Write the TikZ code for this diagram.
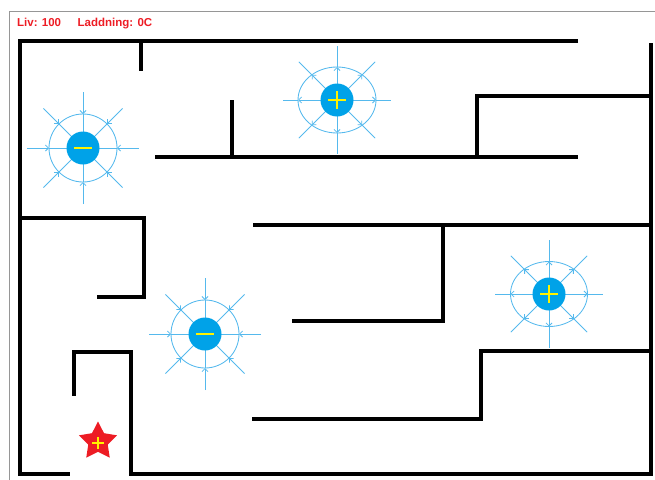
\documentclass[tikz,border=0pt]{standalone}
\usepackage{fontspec}
\setmainfont{Liberation Sans}
\usetikzlibrary{arrows.meta,shapes.geometric}
\definecolor{chargeblue}{RGB}{0,162,232}
\definecolor{fieldblue}{RGB}{85,185,237}
\definecolor{signyellow}{RGB}{255,242,0}
\definecolor{hudred}{RGB}{237,28,36}
\definecolor{framegray}{RGB}{150,150,150}

% #1 name, #2 x, #3 y, #4 x radius, #5 y radius, #6 + or -
\newcommand\fieldcharge[6]{%
  \begin{scope}[shift={(#2,#3)}]
    \coordinate (#1) at (0,0);
    \draw[field] (0,0) ellipse [x radius=#4, y radius=#5];
    \foreach \a in {0,45,...,315} {
      \pgfmathsetmacro\r{#4*#5/sqrt((#5*cos(\a))^2+(#4*sin(\a))^2)}
      \if#6-
        \draw[field,-{Straight Barb[length=3pt,width=6pt]}] (\a:56) -- (\a:\r);
        \draw[field] (\a:\r) -- (\a:16);
      \else
        \draw[field,-{Straight Barb[length=3pt,width=6pt]}] (\a:16) -- (\a:\r);
        \draw[field] (\a:\r) -- (\a:54);
      \fi
    }
    \fill[chargeblue] (0,0) circle [radius=16.5];
    \draw[sign] (-9,0) -- (9,0);
    \if#6+ \draw[sign] (0,-9) -- (0,9); \fi
  \end{scope}%
}

\begin{document}
\begin{tikzpicture}[x=1pt,y=-1pt,
  wall/.style={line width=4pt, line cap=butt, line join=miter},
  field/.style={draw=fieldblue, line width=0.85pt},
  sign/.style={draw=signyellow, line width=2.6pt},
  hud/.style={anchor=base west, inner sep=0pt, text=hudred,
    font=\bfseries\fontsize{11.5}{13}\selectfont}]
\useasboundingbox (0,0) rectangle (655,479);

% window frame
\draw[framegray, line width=1pt] (9,490) -- (9,11) -- (660,11);

% status line
\node[hud] (lives) at (17,27) {Liv: 100};
\node[hud] (charge) at (77.5,27) {Laddning: 0C};

% maze walls
\draw[wall] (578,41) -- (20,41) -- (20,474) -- (70,474);
\draw[wall] (141,41) -- (141,71);
\draw[wall] (232,100) -- (232,157);
\draw[wall] (155,157) -- (578,157);
\draw[wall] (651,96) -- (477,96) -- (477,157);
\draw[wall] (651,43) -- (651,474) -- (131,474) -- (131,352) -- (74,352) -- (74,396);
\draw[wall] (20,218) -- (144,218) -- (144,297) -- (97,297);
\draw[wall] (253,225) -- (651,225);
\draw[wall] (443,225) -- (443,321) -- (292,321);
\draw[wall] (651,351) -- (481,351) -- (481,419) -- (252,419);

% charges with their field lines
\fieldcharge{negA}{83}{148}{34}{34}{-}
\fieldcharge{posA}{337}{100}{39}{33}{+}
\fieldcharge{negB}{205}{334}{34}{34}{-}
\fieldcharge{posB}{549}{294}{38.5}{32.5}{+}

% player
\node[star, star points=5, star point ratio=1.95, fill=hudred, draw=none,
  minimum size=40pt, inner sep=0pt] (player) at (98,441.5) {};
\draw[signyellow, line width=1.6pt] (92,443) -- (104,443) (98,437) -- (98,449);
\end{tikzpicture}
\end{document}
